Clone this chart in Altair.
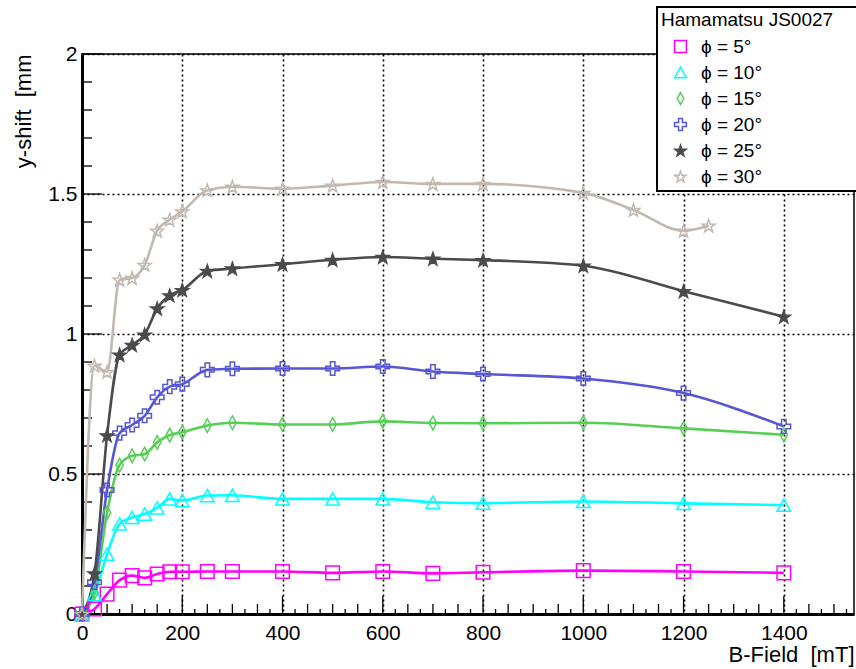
import altair as alt
import pandas as pd

# Field values [mT] at which the sensor was scanned
B_MAIN = [0, 25, 50, 75, 100, 125, 150, 175, 200, 250, 300, 400, 500, 600, 700, 800, 1000, 1200, 1400]
B_30 = [0, 25, 50, 75, 100, 125, 150, 175, 200, 250, 300, 400, 500, 600, 700, 800, 1000, 1100, 1200, 1250]

# Measured y-shift [mm] per tilt angle
SHIFT_5 = [0, 0.018, 0.071, 0.121, 0.137, 0.129, 0.143, 0.151, 0.151, 0.152, 0.152, 0.152, 0.147, 0.152,
           0.145, 0.149, 0.155, 0.152, 0.147]
SHIFT_10 = [0, 0.07, 0.214, 0.322, 0.345, 0.357, 0.379, 0.411, 0.405, 0.423, 0.424, 0.411, 0.411, 0.411,
            0.399, 0.396, 0.402, 0.395, 0.389]
SHIFT_15 = [0, 0.077, 0.362, 0.532, 0.565, 0.571, 0.613, 0.639, 0.649, 0.673, 0.683, 0.677, 0.677, 0.688,
            0.682, 0.681, 0.683, 0.663, 0.640]
SHIFT_20 = [0, 0.113, 0.443, 0.646, 0.675, 0.708, 0.774, 0.812, 0.821, 0.872, 0.876, 0.877, 0.877, 0.884,
            0.866, 0.857, 0.841, 0.789, 0.670]
SHIFT_25 = [0, 0.145, 0.638, 0.926, 0.961, 0.998, 1.091, 1.138, 1.157, 1.225, 1.234, 1.249, 1.265, 1.275,
            1.269, 1.264, 1.244, 1.153, 1.062]
SHIFT_30 = [0, 0.887, 0.865, 1.194, 1.200, 1.247, 1.369, 1.408, 1.438, 1.513, 1.526, 1.519, 1.530, 1.543,
            1.536, 1.536, 1.504, 1.443, 1.369, 1.387]

SERIES = ["ϕ = 5°", "ϕ = 10°", "ϕ = 15°", "ϕ = 20°", "ϕ = 25°", "ϕ = 30°"]
COLORS = ["#ff00ff", "#00ffff", "#57cf57", "#5656d6", "#4b4b4b", "#c1b9b1"]
FILLS = ["transparent", "transparent", "transparent", "transparent", "#4b4b4b", "transparent"]

# Marker outlines in the unit box [-1, 1]
SQUARE = "M-1,-1H1V1H-1Z"
TRIANGLE = "M0,-0.9L1,0.9L-1,0.9Z"
DIAMOND = "M0,-1L0.55,0L0,1L-0.55,0Z"
CROSS = "M-0.33,-1H0.33V-0.33H1V0.33H0.33V1H-0.33V0.33H-1V-0.33H-0.33Z"
STAR = ("M0,-0.905L0.235,-0.229L0.951,-0.214L0.380,0.219L0.588,0.904L0,0.495"
        "L-0.588,0.904L-0.380,0.219L-0.951,-0.214L-0.235,-0.229Z")
SHAPES = [SQUARE, TRIANGLE, DIAMOND, CROSS, STAR, STAR]

# Axis tick positions
X_MAJOR = [0, 200, 400, 600, 800, 1000, 1200, 1400]
X_MID = [b for b in range(50, 1540, 50) if b % 200 != 0]
X_FINE = [b for b in range(25, 1540, 50)]
Y_MAJOR = [0, 0.5, 1, 1.5, 2]
Y_MINOR = [round(v * 0.1, 1) for v in range(1, 20) if v % 5 != 0]

PLOT_W, PLOT_H = 772, 560
FONT = "Liberation Sans"

rows = []
for name, bs, ys in zip(SERIES, [B_MAIN] * 5 + [B_30],
                        [SHIFT_5, SHIFT_10, SHIFT_15, SHIFT_20, SHIFT_25, SHIFT_30]):
    for b, y in zip(bs, ys):
        rows.append({"series": name, "B": b, "shift": y})
df = pd.DataFrame(rows)

x_scale = alt.Scale(domain=[0, 1540], nice=False, zero=False)
y_scale = alt.Scale(domain=[0, 2], nice=False, zero=False)

grid_style = dict(grid=True, gridColor="black", gridDash=[2, 3], gridWidth=1.6, gridOpacity=1,
                  ticks=False, domainColor="black", domainWidth=3,
                  labelFont=FONT, labelFontSize=21, labelColor="black",
                  titleFont=FONT, titleFontSize=22, titleFontWeight="normal", titleColor="black",
                  labelOverlap=False, labelFlush=False)

x_axis = alt.Axis(values=X_MAJOR, format="d", labelPadding=8, title="B-Field\u00a0 [mT]",
                  titleAlign="right", titleAnchor="end", titleBaseline="alphabetic",
                  titleX=PLOT_W, titleY=47, **grid_style)
y_axis = alt.Axis(values=Y_MAJOR, format="~g", labelPadding=5, title="y-shift\u00a0 [mm",
                  titleAngle=270, titleAlign="right", titleAnchor="end", titleBaseline="alphabetic",
                  titleX=-52, titleY=0, **grid_style)

# A blank braille cell keeps the box as wide as the header row needs
legend = alt.Legend(
    type="symbol", title="Hamamatsu JS0027\u00a0\u2800", titleLimit=400,
    orient="none", legendX=575, legendY=-47,
    fillColor="white", strokeColor="black", padding=4, cornerRadius=0,
    titleFont=FONT, titleFontSize=19, titleFontWeight="normal", titleColor="black", titlePadding=7,
    labelFont=FONT, labelFontSize=19, labelColor="black", labelOffset=11,
    symbolSize=140, symbolStrokeWidth=1.5, symbolOffset=10, rowPadding=6,
)

x_enc = alt.X("B:Q", scale=x_scale, axis=x_axis)
y_enc = alt.Y("shift:Q", scale=y_scale, axis=y_axis)
stroke_enc = alt.Stroke("series:N", scale=alt.Scale(domain=SERIES, range=COLORS), legend=legend)

lines = alt.Chart(df).mark_line(interpolate="monotone", strokeWidth=2.6).encode(
    x=x_enc, y=y_enc, stroke=stroke_enc, detail="series:N",
)

points = alt.Chart(df).mark_point(size=185, strokeWidth=1.5, opacity=1).encode(
    x=x_enc, y=y_enc, stroke=stroke_enc,
    shape=alt.Shape("series:N", scale=alt.Scale(domain=SERIES, range=SHAPES), legend=legend),
    fill=alt.Fill("series:N", scale=alt.Scale(domain=SERIES, range=FILLS), legend=legend),
)


def x_ticks(values, length):
    return alt.Chart(pd.DataFrame({"B": values})).mark_rule(color="black", strokeWidth=1.3).encode(
        x=alt.X("B:Q", scale=x_scale, axis=x_axis),
        y=alt.value(PLOT_H), y2=alt.value(PLOT_H - length),
    )


def y_ticks(values, length):
    return alt.Chart(pd.DataFrame({"shift": values})).mark_rule(color="black", strokeWidth=1.3).encode(
        y=alt.Y("shift:Q", scale=y_scale, axis=y_axis),
        x=alt.value(0), x2=alt.value(length),
    )


chart = alt.layer(
    x_ticks(X_MAJOR, 18), x_ticks(X_MID, 10), x_ticks(X_FINE, 5),
    y_ticks(Y_MAJOR, 20), y_ticks(Y_MINOR, 10),
    lines, points,
).properties(
    width=PLOT_W, height=PLOT_H, autosize="none",
    padding={"left": 82, "top": 54, "right": 2, "bottom": 55},
    background="white",
).configure_view(
    stroke="black", strokeWidth=1.5
).configure_legend(strokeWidth=2)

chart.save("out.html", embed_options={"renderer": "svg", "actions": False})
